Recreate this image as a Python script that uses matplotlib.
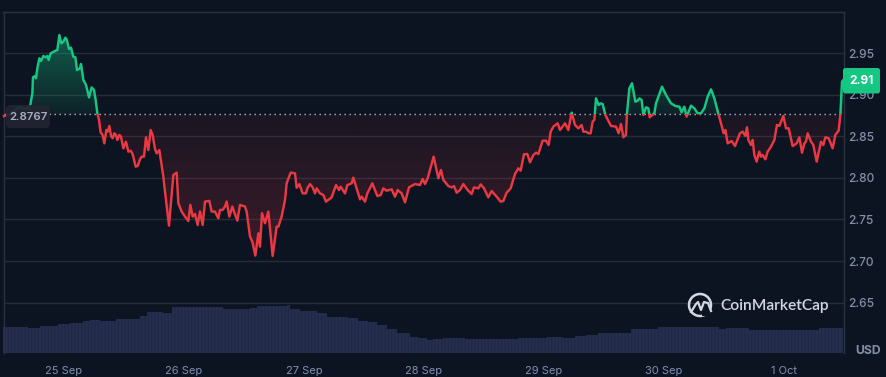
import numpy as np
import matplotlib
matplotlib.use("Agg")
import matplotlib.pyplot as plt
from matplotlib.patches import Rectangle, FancyBboxPatch, Arc
from matplotlib.transforms import Affine2D
from matplotlib.colors import to_rgb

plt.rcParams['font.family'] = ['Inter', 'DejaVu Sans']

# hours since 25 Sep 00:00
hours = [-12.0,-11.6,-10.8,-9.8,-8.8,-7.8,-6.8,-6.33,-6.2,-5.8,-5.6,-5.33,-4.93,-4.6,-4.13,-3.67,-3.33,-3.07,-2.67,-1.8,-1.33,-0.93,-0.53,-0.13,0.27,0.53,1.0,1.4,1.87,2.27,2.6,3.2,3.4,3.87,4.4,5.0,5.53,6.0,6.33,6.67,
7.0,7.33,7.67,8.07,8.47,8.73,9.07,9.4,9.73,10.07,10.4,10.67,11.07,11.4,11.87,12.4,12.87,13.33,13.73,14.33,14.73,15.2,15.53,16.0,16.4,16.87,17.33,17.73,18.2,18.53,19.07,19.87,20.2,
21.0,21.87,22.53,22.73,22.87,23.53,24.2,24.87,25.27,25.73,26.2,26.73,27.2,27.73,28.2,29.07,29.53,30.2,30.87,31.2,31.73,32.2,32.53,33.07,33.67,34.0,34.67,35.2,36.2,36.53,37.2,37.67,38.27,38.87,39.2,39.6,40.2,40.87,41.73,42.53,42.87,43.53,44.2,44.53,45.33,46.2,46.53,
47.07,47.73,48.4,48.67,49.2,49.73,50.2,50.53,51.2,51.87,52.4,53.53,54.4,55.0,55.33,56.2,56.67,57.53,57.87,58.53,59.2,59.53,60.2,60.67,61.67,62.67,63.33,63.87,64.53,65.53,66.2,66.73,67.53,68.2,69.0,70.2,71.2,71.73,72.2,72.73,73.93,74.87,75.4,75.87,76.87,77.53,78.0,78.53,79.2,79.87,80.73,81.53,82.0,82.87,83.33,84.0,84.87,85.53,86.53,87.33,87.87,88.53,89.33,90.2,90.87,91.33,92.0,92.67,93.2,93.87,94.4,94.87,95.73,96.4,96.93,97.33,97.87,98.73,99.2,100.2,100.87,101.53,102.2,102.87,103.53,103.87,
104.4,104.93,105.33,105.73,106.07,106.4,106.93,107.33,107.73,108.27,109.4,110.4,110.93,111.4,111.87,112.4,112.6,113.07,113.6,114.27,114.73,115.07,115.53,115.87,116.4,116.87,117.13,118.07,118.4,119.6,120.4,121.4,122.27,123.07,123.53,124.07,124.53,125.4,126.07,126.73,127.4,128.07,128.73,129.4,130.07,130.93,131.4,131.93,132.27,132.73,133.53,134.2,135.2,135.73,136.27,136.6,136.87,137.4,137.73,138.07,138.53,139.07,139.4,139.73,140.27,140.73,141.4,142.07,142.6,143.07,143.87,144.4,144.93,145.73,146.53,147.07,147.6,148.07,148.4,148.73,149.4,149.87,150.53,151.4,151.87,152.27,152.93,153.73,154.27,154.93,155.27,155.6,155.87]

prices = [2.8742,2.875,2.8755,2.8815,2.8855,2.8823,2.8855,2.9015,2.9208,2.9224,2.9196,2.9316,2.9436,2.9404,2.9464,2.9448,2.9464,2.9416,2.9496,2.9524,2.9536,2.9716,2.9616,2.9636,2.9684,2.9664,2.9548,2.9564,2.9456,2.9448,2.9296,2.9316,2.9368,2.9176,2.9116,2.8967,2.9087,2.9055,2.8935,2.8775,
2.8695,2.8543,2.8523,2.8414,2.8575,2.8555,2.8623,2.8503,2.8475,2.8535,2.8515,2.8455,2.8515,2.8495,2.8354,2.8434,2.8314,2.8326,2.8286,2.8134,2.8142,2.8222,2.8254,2.8254,2.8486,2.8334,2.8575,2.8515,2.8346,2.8294,2.8334,2.8014,2.7834,
2.7425,2.8034,2.8062,2.7854,2.7694,2.7594,2.7534,2.7481,2.7674,2.7534,2.7566,2.7433,2.7594,2.7433,2.7714,2.7722,2.7594,2.7594,2.7513,2.7614,2.7614,2.7654,2.7714,2.7534,2.7654,2.7594,2.7485,2.7674,2.7654,2.7594,2.7293,2.7233,2.7065,2.7333,2.7173,2.7574,2.7453,2.7594,2.7061,2.7413,2.7413,2.7534,2.7734,2.7934,2.8062,2.8054,2.788,
2.7925,2.7813,2.7813,2.7873,2.7925,2.7885,2.7813,2.7873,2.7813,2.7793,2.7713,2.7765,2.7913,2.7853,2.7893,2.7813,2.7913,2.7933,2.8002,2.7873,2.7741,2.7773,2.7713,2.7813,2.7933,2.7781,2.7793,2.7873,2.7845,2.7861,2.7773,2.7853,2.7813,2.7705,2.7885,2.7925,2.7913,2.7986,2.7925,2.7994,2.8254,2.7994,2.8094,2.7974,2.7901,2.7885,2.7901,2.7821,2.7853,2.7925,2.7853,2.7805,2.7885,2.7873,2.7921,2.7873,2.7765,2.7841,2.7773,2.7713,2.7721,2.7821,2.7873,2.8046,2.8114,2.8086,2.8282,2.8286,2.8186,2.8274,2.8302,2.8286,2.8446,2.8446,2.8394,2.8554,2.8615,2.8655,2.8574,2.8655,2.8574,2.8783,2.8635,2.8594,2.8635,2.8554,
2.8555,2.8535,2.8535,2.8675,2.8695,2.8955,2.8875,2.8895,2.8887,2.8755,2.8623,2.8615,2.8535,2.8647,2.8487,2.8515,2.8775,2.9075,2.9136,2.8915,2.8927,2.8955,2.8935,2.8755,2.8847,2.8835,2.8727,2.8775,2.8895,2.9095,2.8995,2.8895,2.8863,2.8855,2.8787,2.8855,2.8735,2.8867,2.8835,2.8775,2.8775,2.8835,2.8975,2.9063,2.8955,2.8755,2.8655,2.8535,2.8575,2.8414,2.8442,2.8382,2.8535,2.8555,2.8503,2.8607,2.8455,2.8394,2.8455,2.8274,2.8194,2.8314,2.8254,2.8274,2.8222,2.8314,2.8374,2.8455,2.8635,2.8623,2.8743,2.8595,2.8595,2.8382,2.8414,2.8487,2.8302,2.8414,2.8434,2.8535,2.8434,2.8394,2.8194,2.8434,2.8394,2.8487,2.8475,2.8354,2.8515,2.8567,2.8755,2.9156,2.9176]

vol_hours = [-12.13,-8.13,-7.13,-4.8,-1.13,1.2,3.87,5.2,7.2,10.5,15.2,16.53,19.87,21.53,30.87,31.87,37.2,38.53,44.53,45.2,47.2,49.53,50.53,52.53,54.53,56.87,58.87,60.87,62.53,64.53,66.53,69.2,70.87,72.53,73.87,75.87,79.53,80.2,90.53,90.87,95.87,96.53,99.2,99.87,101.2,102.2,104.4,106.73,112.4,113.4,118.73,125.73,131.07,132.4,137.07,151.07,155.07,155.87]
volumes = [26.3,26.3,25.3,27,28.7,30,32,33,32.3,34,37.3,41,40.3,46,46,44.3,45.3,46.7,47.7,43.7,42.3,41.7,40.3,36.3,36,35,32.3,31,28.3,24.3,20.3,16.3,14.7,13.3,13.7,14.7,14.7,14,14,15,15,16,16,15,15,16.7,18,20,20.3,23.7,26,25.7,24,25,23.3,25,25.3,27.3]

date_ticks = [0, 24, 48, 72, 96, 120, 144]
date_labels = ['25 Sep', '26 Sep', '27 Sep', '28 Sep', '29 Sep', '30 Sep', '1 Oct']
price_ticks = [2.65, 2.70, 2.75, 2.80, 2.85, 2.90, 2.95]
price_labels = ['2.65', '2.70', '2.75', '2.80', '2.85', '2.90', '2.95']
baseline = 2.8767
last_label = '2.91'

BG = '#0d1421'
GRID = '#262c3b'
GREEN = '#16c784'
RED = '#ea3943'

W, H = 886, 377
fig = plt.figure(figsize=(W/100, H/100), dpi=100, facecolor=BG)
L, R, T, B = 3.5, 843.5, 11.5, 353.0
ax = fig.add_axes([L/W, 1-B/H, (R-L)/W, (B-T)/H], facecolor=BG)

# volume, on its own hidden scale
vx = ax.twinx()
vx.set_ylim(0, B-T)
vx.axis('off')
vx.set_zorder(1)
ax.set_zorder(2)
ax.patch.set_visible(False)
fig.patch.set_facecolor(BG)
plt.rcParams['hatch.linewidth'] = 0.8
vx.fill_between(vol_hours, volumes, 0, step='post', facecolor='#252e4e',
                edgecolor='#1f2843', hatch='|||||', lw=0)

for s in ['left', 'right', 'top']:
    ax.spines[s].set_color('#2b3142')
    ax.spines[s].set_linewidth(1.0)
ax.spines['bottom'].set_visible(False)
ax.set_axisbelow(True)
ax.grid(axis='y', color=GRID, lw=1.0)
ax.yaxis.tick_right()
ax.set_yticks(price_ticks, price_labels)
ax.set_xticks(date_ticks, date_labels)
ax.tick_params(axis='y', length=0, pad=3.6, labelsize=8.6, labelcolor='#8390aa',
               left=False, labelleft=False, right=False, labelright=True)
ax.tick_params(axis='x', length=0, pad=9, labelsize=8.0, labelcolor='#7f90b2')
for lab in ax.get_yticklabels():
    lab.set_fontweight(500)

# gradient fill
t = np.array(hours)
p = np.array(prices)
poly = ax.fill_between(t, p, baseline, facecolor='none', edgecolor='none')
path = poly.get_paths()[0]


def gradient(c, a_low, a_high, y0, y1):
    rgba = np.zeros((256, 1, 4))
    rgba[..., :3] = to_rgb(c)
    rgba[..., 3] = np.linspace(a_low, a_high, 256)[:, None]
    im = ax.imshow(rgba, extent=[t[0], t[-1], y0, y1], origin='lower', aspect='auto',
                   zorder=2, interpolation='bilinear')
    im.set_clip_path(path, ax.transData)


gradient(GREEN, 0.08, 0.42, baseline, 2.975)
gradient(RED, 0.22, 0.06, 2.70, baseline)
ax.set_xlim(-12.1, 155.9)
ax.set_ylim(2.95-(B-53)/832, 2.95+(53-T)/832)
vx.set_xlim(-12.1, 155.9)

# price line split at the baseline
y0, y1 = ax.get_ylim()
above = Rectangle((t[0]-1, baseline), 170, y1-baseline, transform=ax.transData)
below = Rectangle((t[0]-1, y0), 170, baseline-y0, transform=ax.transData)
l1, = ax.plot(t, p, color=GREEN, lw=1.75, zorder=4, solid_joinstyle='round')
l1.set_clip_path(above)
l2, = ax.plot(t, p, color=RED, lw=1.75, zorder=4, solid_joinstyle='round')
l2.set_clip_path(below)
ax.axhline(baseline, color='#b4bccb', lw=1.0, ls=(0, (1, 2.6)), zorder=3)

# overlays placed in pixel space
px = Affine2D().scale(1/W, -1/H).translate(0, 1) + fig.transFigure
fig.add_artist(FancyBboxPatch((6, 105), 44, 23, boxstyle='round,pad=0,rounding_size=5',
                              fc='#222531', ec='none', alpha=0.93, transform=px, zorder=10))
fig.text(28/W, 1-116.5/H, f'{baseline:.4f}', color='#a6b0c3', fontsize=8.2, fontweight=600,
         ha='center', va='center', zorder=11)
fig.add_artist(FancyBboxPatch((843, 68), 37, 25.5, boxstyle='round,pad=0,rounding_size=2.5',
                              fc=GREEN, ec='none', transform=px, zorder=10))
fig.text(861.5/W, 1-81/H, last_label, color='white', fontsize=8.6, fontweight=700,
         ha='center', va='center', zorder=11)
fig.text(868/W, 1-351/H, 'USD', color='#8390aa', fontsize=8.8, fontweight=700,
         ha='center', va='center', zorder=11)

# logo
LOGO = '#d3d8e2'
fig.add_artist(Arc((700, 305), 22, 22, theta1=0, theta2=360, color=LOGO, lw=1.8, transform=px, zorder=9))
fig.add_artist(Rectangle((702, 308), 9, 8, fc=BG, ec='none', transform=px, zorder=9))
fig.add_artist(plt.Line2D([691, 696, 698, 701, 704, 708, 711], [312, 304, 302, 310, 302, 303, 311],
                          color=LOGO, lw=1.6, transform=px, zorder=9))
fig.text(720/W, 1-306/H, 'CoinMarketCap', color=LOGO, fontsize=11.2, fontweight=600,
         ha='left', va='center', zorder=9, family=['Lato', 'Inter'])

fig.savefig('out.png', dpi=100, facecolor=BG)
